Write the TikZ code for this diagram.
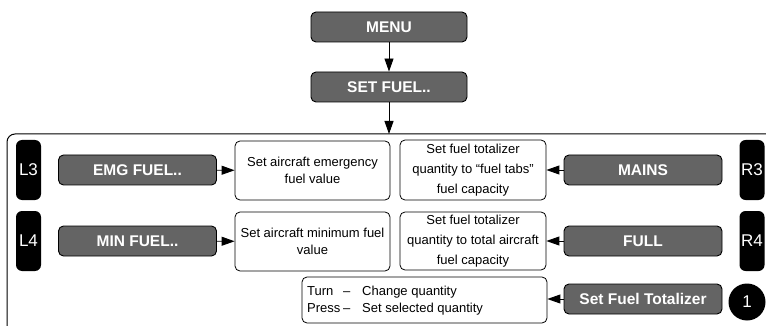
\documentclass[tikz,border=0pt]{standalone}
\usepackage{fontspec}
\setmainfont{Liberation Sans}
\usetikzlibrary{arrows.meta}
\definecolor{btngray}{RGB}{100,100,100}
\tikzset{
  btn/.style={draw=black, fill=btngray, rounded corners=5pt, line width=0.9pt,
    minimum width=158pt, minimum height=30pt, inner sep=0pt,
    text=white, font=\fontsize{15.5}{18}\selectfont\bfseries},
  info/.style={draw=black, fill=white, rounded corners=5pt, line width=0.8pt,
    inner sep=0pt, align=center, font=\fontsize{13}{17}\selectfont},
  key/.style={fill=black, rounded corners=6pt, minimum width=25pt, minimum height=60pt,
    inner sep=0pt, text=white, font=\fontsize{17}{20}\selectfont},
  arr/.style={-{Triangle[length=13pt,width=9pt]}, line width=0.9pt, draw=black},
}
\begin{document}
\begin{tikzpicture}[x=1pt,y=-1pt]
\useasboundingbox (0,0) rectangle (766,326);
% frame
\draw[line width=1pt, rounded corners=8pt] (7,340) -- (7,134) -- (780,134);
\coordinate (ftop) at (389,134);
% top
\node[btn, minimum width=156pt] (menu) at (389,27) {MENU};
\node[btn, minimum width=156pt] (setfuel) at (389,87) {SET FUEL..};
\draw[arr] (menu) -- (setfuel);
\draw[arr] (setfuel) -- (ftop);
% keys
\node[key] (l3) at (28.5,170) {L3};
\node[key] (l4) at (28.5,241) {L4};
\node[key] (r3) at (752,170) {R3};
\node[key] (r4) at (752,241) {R4};
\node[circle, fill=black, minimum size=37pt, inner sep=0pt, text=white,
  font=\fontsize{17}{20}\selectfont] (one) at (747,302) {1};
% buttons
\node[btn] (emg) at (137.5,170) {EMG FUEL..};
\node[btn] (min) at (137.5,241) {MIN FUEL..};
\node[btn] (mains) at (643,170) {MAINS};
\node[btn] (full) at (643,241) {FULL};
\node[btn] (sft) at (643,299) {Set Fuel Totalizer};
% info boxes
\node[info, minimum width=155pt, minimum height=59pt] (emgbox) at (312.5,170.5)
  {Set aircraft emergency\\fuel value};
\node[info, minimum width=155pt, minimum height=59pt] (minbox) at (312.5,241.5)
  {Set aircraft minimum fuel\\value};
\node[info, minimum width=146pt, minimum height=60pt,
  font=\fontsize{13}{20}\selectfont] (tabsbox) at (473,170)
  {Set fuel totalizer\\quantity to “fuel tabs”\\fuel capacity};
\node[info, minimum width=146pt, minimum height=58pt,
  font=\fontsize{13}{20}\selectfont] (totbox) at (473,241)
  {Set fuel totalizer\\quantity to total aircraft\\fuel capacity};
\node[info, minimum width=245pt, minimum height=46pt] (turnbox) at (424.5,300) {};
\node[anchor=west, inner sep=0pt, align=left, font=\fontsize{13}{17}\selectfont]
  (turntext) at (307,301)
  {\makebox[36pt][l]{Turn}\makebox[19pt][l]{–}Change quantity\\
   \makebox[36pt][l]{Press}\makebox[19pt][l]{–}Set selected quantity};
% arrows
\draw[arr] (emg) -- (emgbox);
\draw[arr] (min) -- (minbox);
\draw[arr] (mains) -- (tabsbox);
\draw[arr] (full) -- (totbox);
\draw[arr] (sft) -- (sft -| turnbox.east);
\end{tikzpicture}
\end{document}
